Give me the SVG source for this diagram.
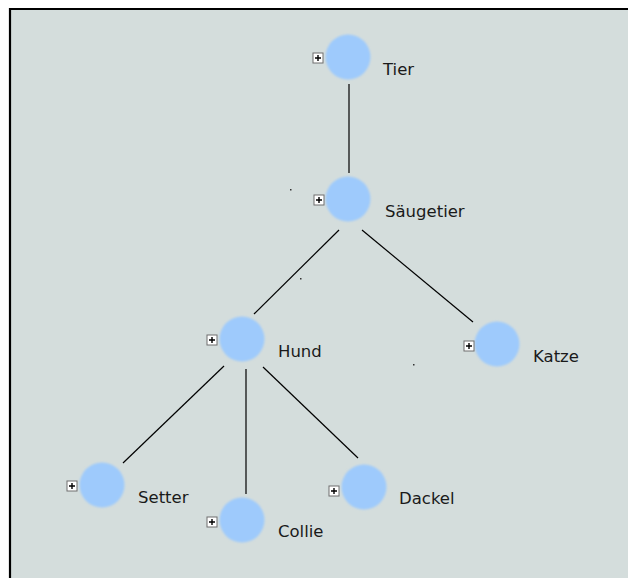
<svg xmlns="http://www.w3.org/2000/svg" width="628" height="578" viewBox="0 0 628 578">
  <style>
    .edge { stroke: #000; stroke-width: 1.2; fill: none; }
    .ball { fill: #9ecafc; filter: url(#soft); }
    .box { fill: #fff; stroke: #6e6e6e; stroke-width: 1; }
    .plus { stroke: #000; stroke-width: 1.4; fill: none; }
    .lbl { font-family: "DejaVu Sans", "Liberation Sans", sans-serif; font-size: 16.5px; fill: #1a1a1a; }
  </style>
  <defs>
    <filter id="soft" x="-20%" y="-20%" width="140%" height="140%">
      <feGaussianBlur stdDeviation="0.9"/>
    </filter>
    <g id="tog">
      <rect class="box" x="-5" y="-5" width="10" height="10"/>
      <path class="plus" d="M-3,0H3M0,-3V3"/>
    </g>
  </defs>
  <rect x="0" y="0" width="628" height="578" fill="#ffffff"/>
  <rect x="10" y="9" width="618" height="569" fill="#d4dddc"/>
  <path d="M10,578V9H628" stroke="#000" stroke-width="2.2" fill="none"/>

  <g id="connectors">
    <line class="edge" x1="349" y1="84" x2="349" y2="173"/>
    <line class="edge" x1="339" y1="230" x2="254" y2="314"/>
    <line class="edge" x1="362" y1="230" x2="473" y2="322"/>
    <line class="edge" x1="224" y1="366" x2="123" y2="463"/>
    <line class="edge" x1="246" y1="369" x2="246" y2="494"/>
    <line class="edge" x1="263" y1="367" x2="358" y2="458"/>
  </g>

  <g fill="#333">
    <rect x="290" y="189" width="1.5" height="1.5"/>
    <rect x="300" y="278" width="1.5" height="1.5"/>
    <rect x="413" y="364" width="1.5" height="1.5"/>
  </g>

  <g id="node-tier">
    <circle class="ball" cx="348" cy="57" r="22.5"/>
    <use href="#tog" x="318" y="58"/>
    <text class="lbl" x="383" y="75">Tier</text>
  </g>
  <g id="node-saeugetier">
    <circle class="ball" cx="348" cy="199" r="22.5"/>
    <use href="#tog" x="319" y="200"/>
    <text class="lbl" x="385" y="217">Säugetier</text>
  </g>
  <g id="node-hund">
    <circle class="ball" cx="242" cy="339" r="22.5"/>
    <use href="#tog" x="212" y="340"/>
    <text class="lbl" x="278" y="357">Hund</text>
  </g>
  <g id="node-katze">
    <circle class="ball" cx="497" cy="344" r="22.5"/>
    <use href="#tog" x="469" y="346"/>
    <text class="lbl" x="533" y="362">Katze</text>
  </g>
  <g id="node-setter">
    <circle class="ball" cx="102" cy="485" r="22.5"/>
    <use href="#tog" x="72" y="486"/>
    <text class="lbl" x="138" y="503">Setter</text>
  </g>
  <g id="node-collie">
    <circle class="ball" cx="242" cy="520" r="22.5"/>
    <use href="#tog" x="212" y="522"/>
    <text class="lbl" x="278" y="537">Collie</text>
  </g>
  <g id="node-dackel">
    <circle class="ball" cx="364" cy="487" r="22.5"/>
    <use href="#tog" x="334" y="491"/>
    <text class="lbl" x="399" y="504">Dackel</text>
  </g>
</svg>
